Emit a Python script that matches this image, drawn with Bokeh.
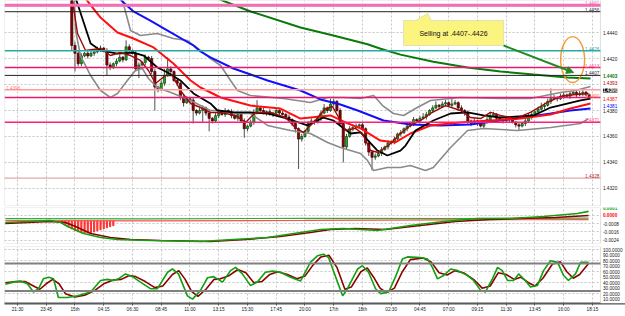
from bokeh.plotting import figure
from bokeh.layouts import column
from bokeh.models import (Range1d, FixedTicker, Label, Arrow,
                          NormalHead, Span, PolyAnnotation, BoxAnnotation, ColumnDataSource)
from bokeh.embed import file_html
from bokeh.resources import INLINE

FONT = "Liberation Sans"
PIP = 0.0001
TS = "4.7px"

# ---------------- data ----------------
time_labels = ["21:30", "23:45", "15th", "04:15", "06:30", "08:45", "11:00", "13:15",
               "15:30", "17:45", "20:00", "17th", "18th", "02:30", "04:45", "07:00",
               "09:15", "11:30", "13:45", "16:00", "18:15"]
tick_bars = list(range(0, 181, 9))

price_ticks = [1.4440, 1.4420, 1.4380, 1.4360, 1.4340, 1.4320]
price_grid = [1.4460, 1.4440, 1.4420, 1.4400, 1.4380, 1.4360, 1.4340, 1.4320]
macd_ticks = [-0.0008, -0.0016, -0.0024]
macd_grid = [0.0, -0.0008, -0.0016, -0.0024]
stoch_ticks = [10, 20, 30, 40, 50, 60, 70, 80, 90, 100]
stoch_grid = [20, 40, 60, 80, 100]

candle_start = 17
first_open = 1.4468
closes = [
    1.4430, 1.4424, 1.4416, 1.4422, 1.4424, 1.4422, 1.4424, 1.4425, 1.4427, 1.4428,
    1.4426, 1.4415, 1.4413, 1.4416, 1.4418, 1.4421, 1.4419, 1.4429, 1.4426, 1.4424,
    1.4412, 1.4415, 1.4417, 1.4421, 1.4420, 1.4410, 1.4398, 1.4396, 1.4401, 1.4407,
    1.4412, 1.4410, 1.4403, 1.4401, 1.4390, 1.4386, 1.4389, 1.4388, 1.4380, 1.4378,
    1.4380, 1.4382, 1.4378, 1.4374, 1.4372, 1.4376, 1.4378, 1.4377, 1.4380, 1.4379,
    1.4376, 1.4374, 1.4377, 1.4372, 1.4366, 1.4368, 1.4371, 1.4378, 1.4382, 1.4380,
    1.4378, 1.4379, 1.4377, 1.4378, 1.4380, 1.4378, 1.4377, 1.4375, 1.4373, 1.4370,
    1.4366, 1.4358, 1.4360, 1.4364, 1.4370, 1.4372, 1.4371, 1.4374, 1.4378, 1.4382,
    1.4380, 1.4385, 1.4387, 1.4380, 1.4370, 1.4352, 1.4360, 1.4366, 1.4367, 1.4368,
    1.4369, 1.4366, 1.4355, 1.4348, 1.4344, 1.4345, 1.4347, 1.4350, 1.4352, 1.4355,
    1.4356, 1.4358, 1.4362, 1.4363, 1.4366, 1.4368, 1.4370, 1.4373, 1.4372, 1.4374,
    1.4375, 1.4377, 1.4380, 1.4382, 1.4384, 1.4383, 1.4385, 1.4386, 1.4384, 1.4385,
    1.4386, 1.4382, 1.4380, 1.4378, 1.4372, 1.4370, 1.4372, 1.4370, 1.4368, 1.4371,
    1.4373, 1.4376, 1.4377, 1.4374, 1.4373, 1.4372, 1.4374, 1.4373, 1.4371, 1.4369,
    1.4368, 1.4370, 1.4372, 1.4375, 1.4377, 1.4379, 1.4381, 1.4383, 1.4384, 1.4387,
    1.4389, 1.4390, 1.4389, 1.4391, 1.4392, 1.4391, 1.4393, 1.4394, 1.4392, 1.4393,
    1.4394, 1.4392, 1.4390]
wick_up = [
    8, 3, 2, 2, 1, 2, 2, 1, 2, 2,
    1, 2, 2, 1, 2, 2, 1, 5, 2, 1,
    2, 2, 1, 2, 1, 2, 2, 1, 2, 5,
    9, 2, 1, 2, 1, 2, 2, 1, 2, 1,
    2, 2, 1, 2, 1, 2, 3, 1, 2, 1,
    2, 1, 2, 1, 2, 1, 2, 3, 6, 1,
    2, 1, 2, 1, 2, 1, 2, 1, 2, 1,
    2, 1, 2, 1, 2, 2, 1, 2, 2, 3,
    1, 4, 2, 1, 2, 1, 2, 2, 1, 2,
    1, 2, 1, 2, 1, 2, 1, 2, 1, 2,
    1, 2, 1, 2, 1, 2, 1, 2, 1, 2,
    3, 2, 1, 2, 3, 1, 2, 2, 1, 4,
    2, 1, 2, 1, 2, 1, 2, 1, 2, 1,
    2, 3, 2, 1, 2, 1, 2, 1, 2, 1,
    2, 1, 2, 3, 2, 1, 2, 3, 2, 2,
    8, 2, 1, 2, 2, 1, 2, 2, 1, 2,
    2, 1, 1]
wick_dn = [
    4, 14, 2, 2, 1, 2, 1, 2, 1, 2,
    1, 8, 2, 1, 2, 1, 2, 1, 2, 1,
    2, 7, 1, 2, 1, 2, 18, 2, 1, 2,
    1, 2, 1, 2, 2, 3, 1, 2, 10, 2,
    1, 9, 2, 10, 2, 1, 2, 1, 2, 1,
    2, 1, 2, 1, 7, 2, 1, 2, 1, 2,
    1, 2, 1, 2, 1, 2, 1, 2, 1, 2,
    3, 23, 2, 1, 2, 1, 2, 1, 2, 1,
    2, 1, 2, 1, 2, 12, 2, 1, 2, 1,
    2, 1, 2, 3, 10, 2, 1, 2, 1, 2,
    1, 2, 1, 2, 1, 2, 1, 2, 1, 2,
    1, 2, 1, 2, 1, 2, 1, 2, 1, 2,
    1, 2, 1, 2, 3, 2, 1, 2, 1, 2,
    1, 2, 1, 2, 1, 2, 1, 2, 1, 2,
    3, 1, 2, 1, 2, 1, 2, 1, 2, 1,
    2, 1, 2, 1, 2, 1, 2, 1, 2, 1,
    2, 1, 1]

# moving averages / bands (bar index, price)
ma_green_x = [62, 64.2, 73, 88.6, 98.9, 109.6, 113.7, 119.9, 130.2, 140.9, 151.2, 161.6, 172.2, 179.4]
ma_green_y = [1.4467, 1.44646, 1.44562, 1.44438, 1.44377, 1.4431, 1.44275, 1.4423, 1.44175,
              1.44131, 1.4410, 1.44077, 1.44054, 1.44046]
ma_blue_x = [31, 36.3, 41.6, 47.0, 55.1, 57.3, 60.4, 67.6, 78.3, 88.6, 94.9, 101.1, 106.5,
             114.6, 123.0, 132.4, 141.8, 151.2, 160.6, 166.9, 173.1, 179.4]
ma_blue_y = [1.4468, 1.44562, 1.44492, 1.44415, 1.4430, 1.44254, 1.44208, 1.44123, 1.44031,
             1.43954, 1.43885, 1.43846, 1.4380, 1.43723, 1.43692, 1.43685, 1.43692, 1.43723,
             1.43754, 1.43777, 1.4380, 1.43815]
ma_red_x = [21, 26.0, 31.3, 36.3, 42.6, 48.8, 54.2, 57.3, 63.6, 72.9, 82.3, 88.6, 98.0, 102.7,
            107.4, 113.6, 118.3, 123.0, 129.3, 138.7, 148.1, 157.5, 166.9, 173.1, 179.4]
ma_red_y = [1.4467, 1.44515, 1.4440, 1.44354, 1.44285, 1.44162, 1.44031, 1.43977, 1.4390,
            1.43838, 1.43815, 1.43738, 1.43762, 1.43708, 1.43662, 1.43569, 1.43554, 1.43623,
            1.43685, 1.43708, 1.43723, 1.43738, 1.43769, 1.43815, 1.43854]
ma_black_x = [18, 22.9, 26.0, 31.3, 36.3, 39.5, 43.8, 47.0, 51.0, 55.1, 60.4, 62.6, 67.6, 72.9,
              78.3, 83.3, 90.8, 95.8, 98.9, 104.3, 107.4, 112.7, 115.8, 119.9, 121.5, 124.6,
              130.2, 135.6, 140.9, 145.9, 151.2, 161.6, 166.9, 176.3, 179.4]
ma_black_y = [1.4468, 1.44315, 1.44262, 1.44238, 1.44246, 1.44223, 1.44131, 1.44092, 1.44031,
              1.43931, 1.43854, 1.4380, 1.43785, 1.43785, 1.43777, 1.43746, 1.43685, 1.43746,
              1.43723, 1.43623, 1.43631, 1.43492, 1.43454, 1.43492, 1.4353, 1.43646, 1.43723,
              1.43777, 1.43785, 1.43762, 1.43746, 1.43762, 1.43823, 1.43877, 1.43892]
ma_fast_x = [17, 18.8, 21.3, 26.0, 29.1, 32.2, 35.4, 38.5, 41.0, 43.2, 46.3, 48.5, 51.0, 54.2,
             57.3, 60.4, 63.6, 68.3, 71.4, 74.5, 79.2, 83.9, 87.0, 89.5, 92.7, 96.4, 98.6,
             101.1, 102.7, 105.8, 108.0, 110.5, 113.0, 116.8, 119.9, 123.0, 126.2, 129.3,
             134.0, 138.7, 141.8, 145.0, 148.1, 151.2, 155.9, 160.6, 165.3, 170.0, 174.7, 178.8]
ma_fast_y = [1.4468, 1.44392, 1.44262, 1.44277, 1.44223, 1.44246, 1.44223, 1.44185, 1.44108,
             1.44008, 1.44069, 1.44069, 1.43954, 1.43854, 1.43823, 1.43785, 1.43785, 1.43762,
             1.43708, 1.43785, 1.43785, 1.43746, 1.43669, 1.43631, 1.43708, 1.43815, 1.43831,
             1.43723, 1.43646, 1.43662, 1.43623, 1.43492, 1.43477, 1.43546, 1.43623, 1.43685,
             1.43723, 1.43777, 1.43838, 1.4380, 1.43746, 1.43738, 1.43785, 1.43762, 1.43738,
             1.43785, 1.43854, 1.43908, 1.43923, 1.43931]
bb_up_x = [32.5, 35.4, 38.5, 43.8, 48.8, 53.2, 57.3, 60.4, 63.6, 66.7, 68.9, 72.9, 83.3, 91.7,
           97.1, 102.1, 107.4, 111.5, 114.3, 117.7, 120.9, 124.6, 129.3, 138.7, 151.2, 160.6,
           165.3, 170.0, 174.7, 179.4]
bb_up_y = [1.4468, 1.44415, 1.44377, 1.44392, 1.44354, 1.44338, 1.44262, 1.4420, 1.44146,
           1.44031, 1.43954, 1.43915, 1.43892, 1.43862, 1.4390, 1.4390, 1.43892, 1.43915,
           1.43838, 1.43777, 1.43762, 1.43815, 1.43877, 1.4390, 1.43892, 1.43892, 1.43915,
           1.43938, 1.43954, 1.43985]
bb_lo_x = [17.8, 18.2, 19.7, 22.9, 26.0, 29.1, 31.3, 34.4, 36.9, 39.1, 41.0, 43.8, 48.8, 54.2,
           60.4, 63.6, 68.9, 72.9, 78.3, 85.5, 91.7, 97.1, 101.1, 107.4, 109.6, 111.5, 115.8,
           119.9, 123.0, 127.7, 130.2, 135.6, 140.9, 145.9, 156.5, 166.9, 176.3, 178.8]
bb_lo_y = [1.4466, 1.44415, 1.44223, 1.44069, 1.43954, 1.4390, 1.43931, 1.44031, 1.44108,
           1.44123, 1.44046, 1.43977, 1.43931, 1.43877, 1.4380, 1.4380, 1.43777, 1.43777,
           1.43685, 1.43646, 1.43623, 1.43554, 1.43515, 1.43469, 1.43415, 1.43338, 1.43362,
           1.43362, 1.43377, 1.43338, 1.43362, 1.43515, 1.43646, 1.43662, 1.43646, 1.43669,
           1.4370, 1.43738]

# horizontal price levels
levels = [1.4461, 1.4456, 1.4426, 1.4413, 1.4407, 1.4396, 1.4390, 1.4371, 1.4328]
level_colors = ["#f46cb4", "#222222", "#2aaaa2", "#e8186e", "#222222", "#ff9c9c",
                "#e8186e", "#ff1f78", "#b02a2a"]
level_widths = [3, 1, 1.5, 1.5, 1, 1.5, 1.5, 1.5, 1]
level_text_colors = ["#f46cb4", "#333333", "#2aaaa2", "#ff5f8f", "#333333", "#ff8080",
                     "#ff6a3c", "#ff4f8f", "#b02a2a"]

# right-margin price tags: (text, y-position, colour)
tag_text = ["1.4403", "1.4393", "1.4387", "1.4381"]
tag_pos = [1.44062, 1.44008, 1.43892, 1.43838]
tag_color = ["#007a00", "#b00000", "#ff0000", "#0000ff"]
bid_text = "1.4390"
bid_pos = 1.43954

# MACD panel
macd_x = [-3.8, 10.3, 13.5, 15.7, 20.7, 26.0, 31.3, 41.6, 57.3, 67.6, 78.3, 88.6, 94.9, 102.1,
          112.7, 123.0, 133.4, 144.0, 154.4, 164.7, 175.3, 178.8]
macd_y = [-0.00068, -0.00049, -0.00068, -0.00107, -0.00176, -0.00215, -0.00234, -0.00244,
          -0.00254, -0.00234, -0.00215, -0.00166, -0.00137, -0.00127, -0.00146, -0.00098,
          -0.00059, -0.00029, -0.00029, -0.0001, 0.0002, 0.0004]
sig_x = [-3.8, 10.3, 15.0, 18.2, 22.9, 29.1, 35.4, 44.8, 60.4, 71.4, 82.3, 91.7, 98.0, 105.8,
         115.2, 126.2, 137.1, 148.1, 157.5, 168.4, 178.8]
sig_y = [-0.00078, -0.00059, -0.00068, -0.00107, -0.00176, -0.00215, -0.00234, -0.00244,
         -0.00254, -0.00234, -0.00205, -0.00166, -0.00137, -0.00127, -0.00137, -0.00098,
         -0.00059, -0.00039, -0.00029, -0.0002, 0.0]
osma_g_x = [-3.8, 40, 90, 140, 178.8]
osma_g_y = [-0.0003, -0.00032, -0.00028, -0.0003, -0.00025]
osma_r_x = [-3.8, 40, 90, 140, 178.8]
osma_r_y = [-0.0005, -0.00052, -0.00048, -0.00042, -0.0004]
hist_x = list(range(14, 31))
hist_base = -0.0005
hist_y = [-0.0007, -0.0009, -0.0011, -0.0013, -0.0015, -0.0016, -0.0017, -0.0017, -0.0017,
          -0.0017, -0.0016, -0.0015, -0.0014, -0.0013, -0.0012, -0.0011, -0.0010]
macd_tag_text = ["0.0001", "0.0000"]
macd_tag_pos = [0.00072, 0.00002]
macd_tag_color = ["#10a010", "#ff0000"]

# Stochastic panel
stk_x = [-3.8, -1.3, 0.9, 3.1, 5.0, 6.6, 8.1, 9.7, 11.3, 12.8, 15.7, 18.8, 22.9, 26.0, 28.2,
         30.1, 31.6, 33.8, 36.0, 38.5, 41.6, 43.8, 47.0, 48.5, 50.4, 53.2, 54.8, 57.3, 59.5,
         61.4, 64.2, 66.7, 68.3, 70.4, 72.9, 75.1, 77.6, 79.8, 82.3, 85.5, 88.6, 91.7, 93.9,
         95.8, 97.4, 100.2, 101.8, 103.3, 106.5, 108.0, 109.9, 112.1, 113.7, 116.2, 118.3,
         120.5, 122.1, 126.2, 128.4, 129.9, 131.5, 133.4, 135.6, 137.8, 140.9, 142.8, 145.0,
         146.5, 148.7, 150.3, 151.8, 153.4, 155.3, 156.9, 159.0, 160.6, 162.8, 164.7, 166.9,
         169.1, 171.0, 172.5, 174.7, 176.3, 178.8]
stk_y = [37, 41, 43, 38, 23, 29, 47, 50, 47, 13, 13, 16, 23, 44, 46, 44, 47, 56, 51, 41, 29,
         29, 59, 65, 56, 16, 10, 26, 49, 51, 41, 62, 68, 56, 35, 41, 59, 61, 59, 50, 43, 77,
         89, 92, 86, 41, 16, 29, 65, 71, 59, 29, 20, 23, 50, 83, 87, 86, 83, 68, 47, 53, 65,
         62, 53, 44, 26, 23, 47, 68, 62, 44, 44, 56, 44, 32, 35, 62, 80, 77, 53, 44, 56, 77, 77]
std_x = [-3.8, -0.5, 2.5, 5, 7, 9, 11, 13, 15, 18, 21, 24, 27, 30, 32.5, 35, 37, 40, 43, 45.5,
         48.5, 50.5, 52.5, 54.5, 56.5, 59, 61.5, 63.5, 66, 69, 71.5, 74, 76.5, 79, 81.5, 84.5,
         87.5, 90, 92.5, 95, 97.5, 100, 102.5, 104.5, 107.5, 109.5, 111.5, 113.5, 115.5, 118,
         120.5, 123, 127, 129.5, 132, 134.5, 137, 140, 143, 145.5, 148, 150.5, 153, 155.5,
         157.5, 160, 162, 164.5, 167.5, 170, 172, 174, 176, 178.8]
std_y = [40, 42, 42, 34, 28, 38, 46, 38, 20, 14, 17, 25, 38, 45, 46, 53, 51, 42, 31, 34, 55,
         62, 46, 24, 15, 28, 46, 47, 52, 64, 58, 40, 42, 55, 60, 55, 47, 52, 72, 87, 90, 68,
         28, 32, 60, 67, 50, 30, 22, 30, 60, 82, 85, 78, 58, 54, 62, 57, 45, 30, 34, 58, 55,
         46, 50, 40, 34, 48, 74, 78, 60, 48, 55, 75]
stoch_levels = [75, 25]

# ---------------- figures ----------------
X0 = -4.07          # left edge of the chart area (bars)
XEND = 182.53       # right edge of the chart area (bars)
XFULL = 190.36      # right edge of the canvas (price-scale strip included)
GRID = "#c6c6c6"
BORDER = "#9a9a9a"


def make(h, ylo, yhi, top, bottom, with_x=False):
    p = figure(width=625, height=h, x_range=Range1d(X0, XFULL), y_range=Range1d(ylo, yhi),
               output_backend="svg", toolbar_location=None,
               y_axis_location=None,
               x_axis_location="below" if with_x else None,
               min_border_left=4, min_border_right=0,
               min_border_top=top, min_border_bottom=bottom)
    p.background_fill_color = "white"
    p.border_fill_color = "white"
    p.outline_line_color = None
    p.xgrid.ticker = FixedTicker(ticks=tick_bars)
    for g in (p.xgrid, p.ygrid):
        g.grid_line_color = GRID
        g.grid_line_dash = "2 2"
        g.grid_line_width = 1
    return p


def tag(p, x, y, text, color, align="left", baseline="middle", bold=False, bg=None):
    lab = Label(x=x, y=y, text=text, text_color=color, text_font=FONT,
                text_font_size=TS, text_align=align, text_baseline=baseline,
                text_font_style="bold" if bold else "normal")
    if bg is not None:
        lab.background_fill_color = bg
    p.add_layout(lab)


def price_strip(p, ticks, fmt):
    # blank price-scale strip to the right of the chart area, with its scale labels
    p.add_layout(BoxAnnotation(left=XEND, fill_color="white", fill_alpha=1.0, line_color=None))
    p.add_layout(BoxAnnotation(right=XEND, fill_alpha=0.0, line_color=BORDER, line_width=1.2))
    for t in ticks:
        tag(p, 183.3, t, fmt % t, "#202020")


# ---- main price panel ----
p1 = make(206, 1.430692, 1.446462, 0, 1)
p1.ygrid.ticker = FixedTicker(ticks=price_grid)

for lv, c, w in zip(levels, level_colors, level_widths):
    dash = "1 1" if lv == levels[-1] else "solid"
    p1.add_layout(Span(location=lv, dimension="width", line_color=c, line_width=w,
                       line_dash=dash))

# candles
opens = [first_open] + closes[:-1]
cx = list(range(candle_start, candle_start + len(closes)))
highs = [max(o, c) + u * PIP for o, c, u in zip(opens, closes, wick_up)]
lows = [min(o, c) - d * PIP for o, c, d in zip(opens, closes, wick_dn)]
src = ColumnDataSource(dict(x=cx, o=opens, c=closes, h=highs, l=lows))
p1.segment(x0="x", y0="l", x1="x", y1="h", source=src, line_color="#505050", line_width=1)
up = [i for i in range(len(cx)) if closes[i] >= opens[i]]
dn = [i for i in range(len(cx)) if closes[i] < opens[i]]
p1.vbar(x=[cx[i] for i in up], bottom=[opens[i] for i in up], top=[closes[i] for i in up],
        width=0.68, fill_color="#12b312", line_color="#1a3a1a", line_width=0.7)
p1.vbar(x=[cx[i] for i in dn], bottom=[closes[i] for i in dn], top=[opens[i] for i in dn],
        width=0.68, fill_color="#8b0000", line_color="#3a0000", line_width=0.7)

p1.line(bb_up_x, bb_up_y, line_color="#8a8a8a", line_width=1.6)
p1.line(bb_lo_x, bb_lo_y, line_color="#8a8a8a", line_width=1.6)
p1.line(ma_green_x, ma_green_y, line_color="#0a7a0a", line_width=2)
p1.line(ma_blue_x, ma_blue_y, line_color="#1010ff", line_width=2)
p1.line(ma_red_x, ma_red_y, line_color="#ff1010", line_width=2)
p1.line(ma_black_x, ma_black_y, line_color="#000000", line_width=1.8)
p1.line(ma_fast_x, ma_fast_y, line_color="#9a0a0a", line_width=1.4)
p1.ellipse(x=[173.8], y=[1.44192], width=7.5, height=0.00354, fill_color=None,
           line_color="#f39a2e", line_width=1.4)

price_strip(p1, price_ticks, "%.4f")

# level texts
for lv, c in zip(levels, level_text_colors):
    if lv == 1.4396:
        tag(p1, -3.6, lv, "%.4f" % lv, c, align="left", baseline="bottom")
    else:
        tag(p1, 182.2, lv, "%.4f" % lv, c, align="right", baseline="bottom")

for t, y, c in zip(tag_text, tag_pos, tag_color):
    tag(p1, 183.3, y, t, c, bold=(c == "#007a00"))
tag(p1, 183.3, bid_pos, bid_text, "white", bold=True, bg="#000000")

# call-out
p1.add_layout(PolyAnnotation(
    xs=[120.85, 120.85, 124.6, 128.4, 129.6, 152.2, 152.2],
    ys=[1.4430, 1.44492, 1.44492, 1.44546, 1.44492, 1.44492, 1.4430],
    fill_color="#fbf47e", fill_alpha=1.0, line_color="#a8a8a8", line_width=1))
p1.add_layout(Label(x=136.5, y=1.44392, text="Selling at .4407-.4426", text_font=FONT,
                    text_font_size="7px", text_color="#111111", text_align="center",
                    text_baseline="middle"))
p1.add_layout(Arrow(x_start=152.2, y_start=1.4430, x_end=174.1, y_end=1.44092,
                    line_color="#1f8a1f", line_width=2,
                    end=NormalHead(size=7, fill_color="#1f8a1f", line_color="#1f8a1f")))

# ---- MACD panel ----
p2 = make(38, -0.00273, 0.00078, 1, 1)
p2.ygrid.ticker = FixedTicker(ticks=macd_grid)
p2.vbar(x=hist_x, top=[hist_base] * len(hist_x), bottom=hist_y, width=0.35,
        fill_color="#ff3030", line_color="#ff3030")
p2.line(osma_g_x, osma_g_y, line_color="#33aa33", line_width=1.2)
p2.line(osma_r_x, osma_r_y, line_color="#ff5050", line_width=1.2)
p2.line(sig_x, sig_y, line_color="#8b0000", line_width=1.6)
p2.line(macd_x, macd_y, line_color="#10a010", line_width=1.6)
price_strip(p2, macd_ticks, "%.4f")
for t, y, c in zip(macd_tag_text, macd_tag_pos, macd_tag_color):
    tag(p2, 183.3, y, t, c, bold=True)

# ---- Stochastic panel ----
p3 = make(72, 2.0, 106.0, 2, 13, with_x=True)
p3.ygrid.ticker = FixedTicker(ticks=stoch_grid)
for lv in stoch_levels:
    p3.add_layout(Span(location=lv, dimension="width", line_color="#808080", line_width=2))
p3.line(std_x, std_y, line_color="#8b0000", line_width=1.6)
p3.line(stk_x, stk_y, line_color="#10a010", line_width=1.6)
price_strip(p3, stoch_ticks, "%.4f")

xa = p3.xaxis[0]
xa.ticker = FixedTicker(ticks=tick_bars)
xa.major_label_overrides = {t: s for t, s in zip(tick_bars, time_labels)}
xa.axis_line_color = "#505050"
xa.axis_line_width = 2
xa.major_tick_line_color = "#505050"
xa.major_tick_in = 0
xa.major_tick_out = 2
xa.minor_tick_line_color = None
xa.major_label_text_font = FONT
xa.major_label_text_font_size = TS
xa.major_label_text_color = "#202020"
xa.major_label_standoff = 1

layout = column(p1, p2, p3)
open("out.html", "w").write(file_html(layout, INLINE))
